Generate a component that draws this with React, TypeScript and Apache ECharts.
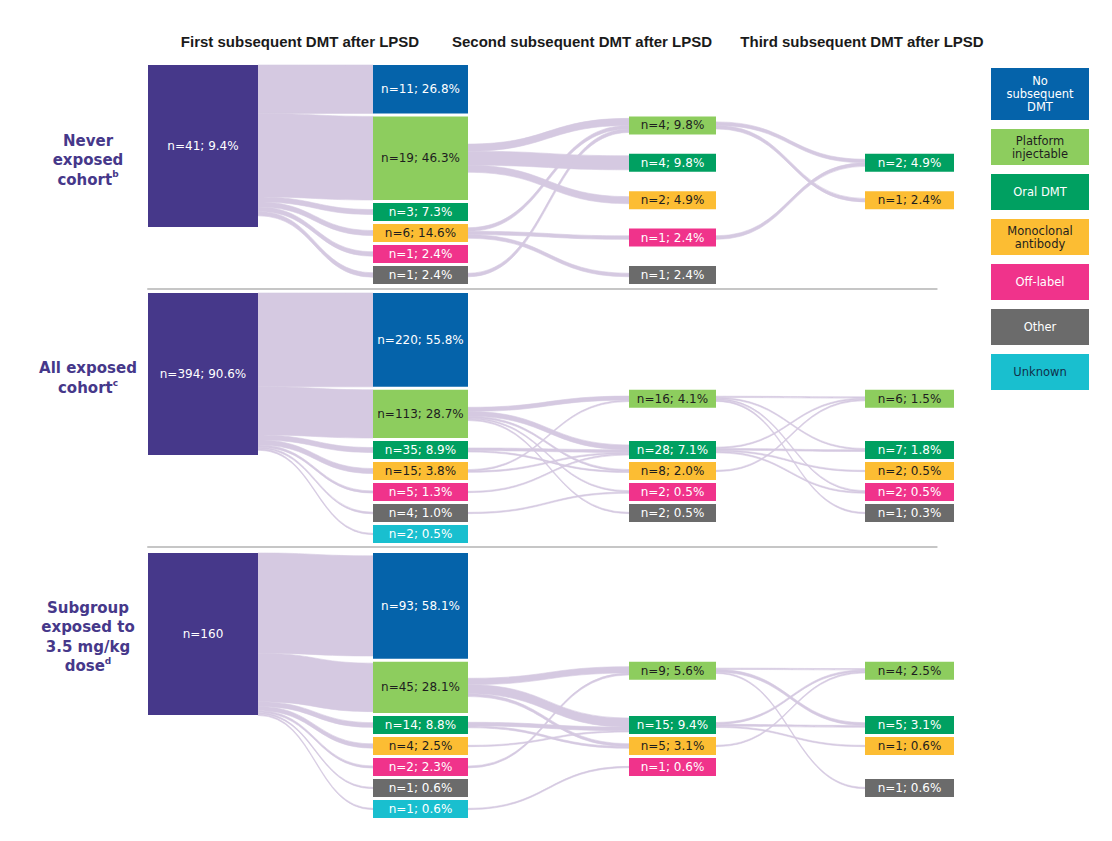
import React, { useEffect, useRef } from "react";
import * as echarts from "echarts";

// ---------------- DATA ----------------
const categories = ["No subsequent DMT", "Platform injectable", "Oral DMT", "Monoclonal antibody", "Off-label", "Other", "Unknown"];
const legendLines = [["No", "subsequent", "DMT"], ["Platform", "injectable"], ["Oral DMT"], ["Monoclonal", "antibody"], ["Off-label"], ["Other"], ["Unknown"]];
const stageHeaders = ["First subsequent DMT after LPSD", "Second subsequent DMT after LPSD", "Third subsequent DMT after LPSD"];
const cohortLines = [["Never", "exposed", "cohort"], ["All exposed", "cohort"], ["Subgroup", "exposed to", "3.5 mg/kg", "dose"]];
const cohortSup = ["b", "c", "d"];

// nodes: [id, stage, categoryIndex (-1 = cohort), n, percent]
const neverNodes: any[] = [
  ["c", 0, -1, 41, 9.4],
  ["a0", 1, 0, 11, 26.8], ["a1", 1, 1, 19, 46.3], ["a2", 1, 2, 3, 7.3], ["a3", 1, 3, 6, 14.6], ["a4", 1, 4, 1, 2.4], ["a5", 1, 5, 1, 2.4],
  ["b1", 2, 1, 4, 9.8], ["b2", 2, 2, 4, 9.8], ["b3", 2, 3, 2, 4.9], ["b4", 2, 4, 1, 2.4], ["b5", 2, 5, 1, 2.4],
  ["d2", 3, 2, 2, 4.9], ["d3", 3, 3, 1, 2.4],
];
// links: [source, target, n]
const neverLinks: any[] = [
  ["c", "a0", 11], ["c", "a1", 19], ["c", "a2", 3], ["c", "a3", 6], ["c", "a4", 1], ["c", "a5", 1],
  ["a1", "b1", 2], ["a1", "b2", 4], ["a1", "b3", 2], ["a3", "b1", 1], ["a3", "b4", 1], ["a3", "b5", 1], ["a5", "b1", 1],
  ["b1", "d2", 1], ["b1", "d3", 1], ["b4", "d2", 1],
];

const allNodes: any[] = [
  ["c", 0, -1, 394, 90.6],
  ["a0", 1, 0, 220, 55.8], ["a1", 1, 1, 113, 28.7], ["a2", 1, 2, 35, 8.9], ["a3", 1, 3, 15, 3.8], ["a4", 1, 4, 5, 1.3], ["a5", 1, 5, 4, 1.0], ["a6", 1, 6, 2, 0.5],
  ["b1", 2, 1, 16, 4.1], ["b2", 2, 2, 28, 7.1], ["b3", 2, 3, 8, 2.0], ["b4", 2, 4, 2, 0.5], ["b5", 2, 5, 2, 0.5],
  ["d1", 3, 1, 6, 1.5], ["d2", 3, 2, 7, 1.8], ["d3", 3, 3, 2, 0.5], ["d4", 3, 4, 2, 0.5], ["d5", 3, 5, 1, 0.3],
];
const allLinks: any[] = [
  ["c", "a0", 220], ["c", "a1", 113], ["c", "a2", 35], ["c", "a3", 15], ["c", "a4", 5], ["c", "a5", 4], ["c", "a6", 2],
  ["a1", "b1", 12], ["a1", "b2", 14], ["a1", "b3", 5], ["a1", "b4", 1], ["a1", "b5", 2], ["a2", "b2", 8], ["a2", "b3", 3],
  ["a3", "b1", 4], ["a3", "b2", 4], ["a4", "b2", 2], ["a5", "b4", 1],
  ["b1", "d1", 2], ["b1", "d2", 2], ["b1", "d4", 1], ["b1", "d5", 1], ["b2", "d1", 3], ["b2", "d2", 5], ["b2", "d3", 2], ["b2", "d4", 1], ["b3", "d1", 1],
];

const subNodes: any[] = [
  ["c", 0, -1, 160, null],
  ["a0", 1, 0, 93, 58.1], ["a1", 1, 1, 45, 28.1], ["a2", 1, 2, 14, 8.8], ["a3", 1, 3, 4, 2.5], ["a4", 1, 4, 2, 2.3], ["a5", 1, 5, 1, 0.6], ["a6", 1, 6, 1, 0.6],
  ["b1", 2, 1, 9, 5.6], ["b2", 2, 2, 15, 9.4], ["b3", 2, 3, 5, 3.1], ["b4", 2, 4, 1, 0.6],
  ["d1", 3, 1, 4, 2.5], ["d2", 3, 2, 5, 3.1], ["d3", 3, 3, 1, 0.6], ["d5", 3, 5, 1, 0.6],
];
const subLinks: any[] = [
  ["c", "a0", 93], ["c", "a1", 45], ["c", "a2", 14], ["c", "a3", 4], ["c", "a4", 2], ["c", "a5", 1], ["c", "a6", 1],
  ["a1", "b1", 7], ["a1", "b2", 10], ["a1", "b3", 3], ["a2", "b2", 4], ["a2", "b3", 2], ["a3", "b2", 1], ["a4", "b1", 2], ["a6", "b4", 1],
  ["b1", "d1", 1], ["b1", "d2", 3], ["b1", "d5", 1], ["b2", "d1", 2], ["b2", "d2", 2], ["b2", "d3", 1], ["b3", "d1", 1],
];

// ---------------- STYLE / LAYOUT CONFIG ----------------
const categoryColors = ["#0563aa", "#8dcd5e", "#00a061", "#fcbd33", "#f0338b", "#6b6b6b", "#19bfcf"];
const nodeTextColors = ["#ffffff", "#1e1e1e", "#ffffff", "#1e1e1e", "#ffffff", "#ffffff", "#ffffff"];
const legendTextColors = ["#ffffff", "#1e1e1e", "#ffffff", "#1e1e1e", "#ffffff", "#ffffff", "#10304a"];
const cohortColor = "#46388a";
const linkColor = "#d5c9e1";
const stageWidths = [110, 95, 87, 89];
const stageShift = [0, -14, 3, 0];
const headerCenters = [300, 582, 862];
const panelLayout = [
  { top: 65, height: 219, rows: "spread", sep: 5, labelDy: 14 },
  { top: 293, height: 250, rows: "align", sep: 4, labelDy: 4 },
  { top: 553, height: 265, rows: "align", sep: -1, labelDy: 3 },
];
const GRID_LEFT = 148;
const STAGE_PX = 239;
const X_MAX = 3.3;
const MIN_H = 18, GAP = 3, COHORT_H = 162, MIN_W = 1.3, SMALL_LINK = 5, LATER_LINK_SCALE = 0.8;
const LABEL_FONT = '12px "DejaVu Sans", Verdana, sans-serif';

function fmt(n: number, pct: number | null) {
  return pct == null ? `n=${n}` : `n=${n}; ${pct.toFixed(1)}%`;
}

function layoutPanel(nodeRows: any[], linkRows: any[], H: number, rowMode: string) {
  const nodes = nodeRows.map(([id, stage, cat, n, pct]) => ({ id, stage, cat, n, pct, h: 0, y: 0, small: false }));
  const byId: any = {};
  nodes.forEach((n) => (byId[n.id] = n));
  const first = nodes.filter((n) => n.stage === 1);
  const avail = H - GAP * (first.length - 1);
  let k = avail / first.reduce((s, n) => s + n.n, 0);
  // stage-1 nodes whose proportional height is under twice the minimum are drawn at the minimum height
  for (let it = 0; it < 10; it++) {
    const small = first.filter((n) => n.n * k < 2 * MIN_H);
    const bigSum = first.filter((n) => n.n * k >= 2 * MIN_H).reduce((s, n) => s + n.n, 0);
    k = (avail - small.length * MIN_H) / bigSum;
  }
  let y = 0;
  first.forEach((n) => {
    n.small = n.n * k < 2 * MIN_H;
    n.h = n.small ? MIN_H : n.n * k;
    n.y = y;
    y += n.h + GAP;
  });
  nodes.filter((n) => n.stage === 0).forEach((n) => { n.h = COHORT_H; n.y = 0; });
  const rowCats = Array.from(new Set(nodes.filter((n) => n.stage >= 2).map((n) => n.cat))).sort((a: any, b: any) => a - b);
  const rowTop: any = {};
  if (rowMode === "align") {
    rowCats.forEach((c) => { rowTop[c] = first.find((n) => n.cat === c)!.y; });
  } else {
    const t0 = first.find((n) => n.cat === rowCats[0])!.y;
    const t1 = H - MIN_H;
    rowCats.forEach((c, i) => { rowTop[c] = t0 + ((t1 - t0) * i) / (rowCats.length - 1); });
  }
  nodes.filter((n) => n.stage >= 2).forEach((n) => { n.h = Math.max(MIN_H, n.n * k); n.y = rowTop[n.cat]; });
  const links = linkRows.map(([s, t, v]) => {
    const src = byId[s], tgt = byId[t];
    let w = v * k;
    if (src.stage === 0 && tgt.small) w = Math.min(w, SMALL_LINK);
    if (src.stage > 0) w *= LATER_LINK_SCALE;
    return { src, tgt, v, w, sy: 0, ty: 0 };
  });
  // keep bundles inside their boxes
  const outF: any = {}, inF: any = {};
  nodes.forEach((n) => {
    const o = links.filter((l) => l.src === n).reduce((s, l) => s + l.w, 0);
    const i = links.filter((l) => l.tgt === n).reduce((s, l) => s + l.w, 0);
    outF[n.id] = o > n.h ? n.h / o : 1;
    inF[n.id] = i > n.h ? n.h / i : 1;
  });
  links.forEach((l) => { l.w = Math.max(MIN_W, l.w * Math.min(outF[l.src.id], inF[l.tgt.id])); });
  nodes.forEach((n) => {
    const outs = links.filter((l) => l.src === n).sort((a, b) => a.tgt.y - b.tgt.y);
    let tot = outs.reduce((s, l) => s + l.w, 0);
    let yy = n.stage === 0 ? n.y : n.y + (n.h - tot) / 2;
    outs.forEach((l) => { l.sy = yy; yy += l.w; });
    const ins = links.filter((l) => l.tgt === n).sort((a, b) => a.src.y - b.src.y);
    tot = ins.reduce((s, l) => s + l.w, 0);
    yy = n.y + (n.h - tot) / 2;
    ins.forEach((l) => { l.ty = yy; yy += l.w; });
  });
  return { nodes, links };
}

function buildOption() {
  const panels = [
    { nodes: neverNodes, links: neverLinks },
    { nodes: allNodes, links: allLinks },
    { nodes: subNodes, links: subLinks },
  ];
  const grid: any[] = [], xAxis: any[] = [], yAxis: any[] = [], series: any[] = [];
  panels.forEach((p, pi) => {
    const cfg = panelLayout[pi];
    const L = layoutPanel(p.nodes, p.links, cfg.height, cfg.rows);
    grid.push({ left: GRID_LEFT, top: cfg.top, width: STAGE_PX * X_MAX, height: cfg.height });
    xAxis.push({
      gridIndex: pi, type: "value", min: 0, max: X_MAX, show: cfg.sep >= 0, position: "bottom", offset: Math.max(cfg.sep, 0),
      axisLine: { show: true, onZero: false, lineStyle: { color: "#c6c6c6", width: 2 } },
      axisTick: { show: false }, axisLabel: { show: false }, splitLine: { show: false },
    });
    yAxis.push({ gridIndex: pi, type: "value", min: 0, max: cfg.height, inverse: true, show: false, splitLine: { show: false } });

    series.push({
      type: "custom", name: "links" + pi, xAxisIndex: pi, yAxisIndex: pi, clip: false, silent: true, z: 1,
      data: L.links.map((l) => [l.src.stage, l.sy, l.sy + l.w, l.tgt.stage, l.ty, l.ty + l.w]),
      renderItem: (params: any, api: any) => {
        const s = api.value(0), t = api.value(3);
        const a0 = api.coord([s, api.value(1)]), a1 = api.coord([s, api.value(2)]);
        const b0 = api.coord([t, api.value(4)]), b1 = api.coord([t, api.value(5)]);
        const x0 = a0[0] + stageShift[s] + stageWidths[s], x1 = b0[0] + stageShift[t], xm = (x0 + x1) / 2;
        const d = `M${x0},${a0[1]} C${xm},${a0[1]} ${xm},${b0[1]} ${x1},${b0[1]} L${x1},${b1[1]} C${xm},${b1[1]} ${xm},${a1[1]} ${x0},${a1[1]} Z`;
        return { type: "path", shape: { pathData: d }, style: { fill: linkColor, stroke: linkColor, lineWidth: 0.6 } };
      },
    });

    series.push({
      type: "custom", name: "nodes" + pi, xAxisIndex: pi, yAxisIndex: pi, clip: false, silent: true, z: 2,
      data: L.nodes.map((n, i) => [n.stage, n.y, n.y + n.h, i]),
      renderItem: (params: any, api: any) => {
        const s = api.value(0);
        const n = L.nodes[api.value(3)];
        const p0 = api.coord([s, api.value(1)]), p1 = api.coord([s, api.value(2)]);
        const w = stageWidths[s];
        const x = p0[0] + stageShift[s];
        const fill = n.cat < 0 ? cohortColor : categoryColors[n.cat];
        const tc = n.cat < 0 ? "#ffffff" : nodeTextColors[n.cat];
        const cy = (p0[1] + p1[1]) / 2;
        const children: any[] = [
          { type: "rect", shape: { x, y: p0[1], width: w, height: p1[1] - p0[1] }, style: { fill } },
          {
            type: "text",
            style: { text: fmt(n.n, n.pct), x: x + w / 2, y: cy, align: "center", verticalAlign: "middle", textAlign: "center", textVerticalAlign: "middle", fill: tc, font: LABEL_FONT },
          },
        ];
        if (n.stage === 0) {
          const lines = cohortLines[pi];
          const txt = lines.map((l, i) => (i === lines.length - 1 ? `{t|${l}}{s|${cohortSup[pi]}}` : `{t|${l}}`)).join("\n");
          children.push({
            type: "text",
            style: {
              text: txt, x: x - 60, y: cy + cfg.labelDy, align: "center", verticalAlign: "middle", textAlign: "center", textVerticalAlign: "middle",
              rich: {
                t: { fontSize: 15, fontWeight: "bold", fontFamily: '"DejaVu Sans", Verdana, sans-serif', fill: cohortColor, lineHeight: 19.5 },
                s: { fontSize: 9, fontWeight: "bold", fontFamily: '"DejaVu Sans", Verdana, sans-serif', fill: cohortColor, verticalAlign: "top" },
              },
            },
          });
        }
        return { type: "group", children };
      },
    });
  });

  // legend boxes
  const legend: any[] = [];
  let ly = 68;
  legendLines.forEach((lines, i) => {
    const h = lines.length >= 3 ? 52 : 36;
    legend.push({ type: "rect", shape: { x: 991, y: ly, width: 98, height: h }, style: { fill: categoryColors[i] }, silent: true });
    legend.push({
      type: "text", x: 1040, y: ly + h / 2, silent: true,
      style: { text: lines.join("\n"), align: "center", verticalAlign: "middle", textAlign: "center", textVerticalAlign: "middle", lineHeight: 13, font: '11.5px "DejaVu Sans", Verdana, sans-serif', fill: legendTextColors[i] },
    });
    ly += h + 9;
  });

  return {
    animation: false,
    backgroundColor: "#ffffff",
    title: stageHeaders.map((t, i) => ({
      text: t, left: headerCenters[i], top: 34, textAlign: "center", padding: 0,
      textStyle: { fontSize: 15, fontWeight: "bold", fontFamily: '"Liberation Sans", Arial, sans-serif', color: "#1a1a1a" },
    })),
    grid, xAxis, yAxis, series,
    graphic: legend,
  };
}

export default function App() {
  const ref = useRef<HTMLDivElement>(null);
  useEffect(() => {
    const chart = echarts.init(ref.current!, null, { renderer: "svg" });
    chart.setOption(buildOption() as any);
    return () => chart.dispose();
  }, []);
  return <div ref={ref} style={{ position: "fixed", left: 0, top: 0, width: 1112, height: 841, background: "#fff" }} />;
}
